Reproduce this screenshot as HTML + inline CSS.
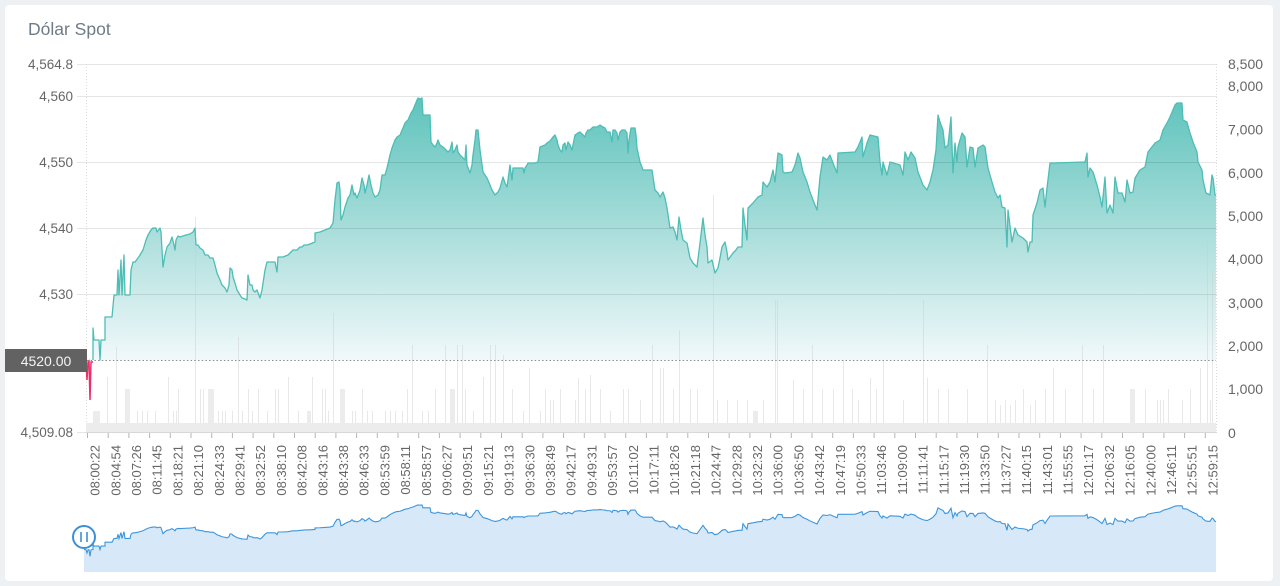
<!DOCTYPE html>
<html><head><meta charset="utf-8"><style>
html,body{margin:0;padding:0;background:#eef1f4;}
body{width:1280px;height:586px;overflow:hidden;position:relative;font-family:"Liberation Sans",Arial,sans-serif;}
.card{position:absolute;left:5px;top:5px;width:1268px;height:576px;background:#fff;border-radius:4px;}
svg{position:absolute;left:0;top:0;}
</style></head><body>
<div class="card"></div>
<svg width="1280" height="586" viewBox="0 0 1280 586" xmlns="http://www.w3.org/2000/svg">
<defs>
<linearGradient id="g1" gradientUnits="userSpaceOnUse" x1="0" y1="96" x2="0" y2="362">
<stop offset="0" stop-color="#5ec3bc"/>
<stop offset="0.5" stop-color="#a8ddda"/>
<stop offset="1" stop-color="#f2f9fb"/>
</linearGradient>
</defs>
<text x="28" y="35" font-size="17.5" fill="#6f7b87">Dólar Spot</text>

<!-- main area -->
<path fill="url(#g1)" d="M93,360 L93,328 L94,340 L99,340 L100,360 L101,340 L105,340 L105,317 L112,317 L114,295 L117,295 L118,270 L119,295 L121,260 L122,295 L124,255 L125,295 L130,295 L131,270 L133,262 L135,262 L138,258 L140,255 L143,250 L146,240 L148,235 L151,230 L153,228 L156,228 L157,232 L160,228 L161,232 L163,267 L165,255 L167,247 L170,243 L172,237 L174,245 L175,250 L176,240 L178,236 L180,237 L186,235 L190,234 L193,232 L195,228 L196,245 L198,245 L200,248 L203,250 L205,255 L208,255 L210,258 L213,258 L215,265 L217,273 L220,280 L222,285 L225,288 L227,292 L229,285 L230,268 L232,270 L233,277 L235,283 L237,290 L240,295 L242,298 L245,299 L247,300 L248,275 L250,285 L252,285 L253,290 L255,292 L257,290 L260,298 L262,290 L265,270 L267,262 L272,262 L275,262 L277,272 L278,257 L283,257 L288,255 L290,253 L293,250 L297,250 L300,247 L302,247 L304,245 L307,245 L310,244 L315,242 L315,233 L320,232 L325,230 L330,228 L333,223 L335,200 L337,183 L339,182 L340,190 L341,220 L343,215 L345,207 L348,198 L350,195 L352,185 L354,195 L355,193 L357,198 L360,190 L362,178 L364,185 L365,193 L367,185 L369,175 L371,185 L373,193 L375,197 L378,195 L380,190 L382,175 L385,175 L387,168 L390,155 L392,148 L395,140 L397,137 L400,135 L403,128 L405,123 L408,120 L411,113 L413,110 L415,105 L417,100 L418,98 L420,99 L422,98 L423,115 L430,115 L431,142 L433,145 L435,147 L437,143 L438,140 L440,145 L443,147 L446,150 L448,152 L450,150 L452,142 L453,153 L455,150 L457,145 L458,152 L460,155 L463,158 L465,160 L466,145 L467,165 L470,173 L472,165 L473,155 L475,140 L476,130 L478,130 L480,150 L483,172 L485,175 L487,178 L490,185 L492,190 L495,195 L498,192 L500,188 L503,177 L505,183 L507,187 L508,180 L510,165 L512,180 L513,168 L523,168 L524,173 L525,168 L527,165 L528,163 L535,163 L538,162 L540,147 L545,145 L547,143 L550,141 L553,137 L555,135 L557,140 L558,145 L560,150 L562,152 L563,145 L565,143 L566,150 L568,142 L570,145 L572,150 L574,140 L575,135 L578,133 L580,132 L583,135 L585,137 L586,133 L588,130 L590,130 L593,127 L597,127 L600,125 L603,127 L605,128 L607,132 L610,132 L612,142 L613,130 L615,130 L617,133 L618,140 L620,132 L622,130 L625,130 L627,133 L628,153 L629,140 L631,128 L635,128 L636,135 L637,148 L640,162 L643,170 L652,170 L655,190 L658,193 L660,197 L663,192 L665,198 L667,208 L670,228 L673,227 L675,232 L677,240 L679,217 L681,230 L683,240 L687,243 L690,258 L693,263 L697,267 L700,243 L703,218 L705,235 L707,247 L708,263 L712,260 L715,273 L718,268 L720,258 L722,247 L725,242 L727,252 L728,260 L733,253 L736,250 L738,247 L742,247 L743,208 L745,225 L747,240 L748,208 L753,203 L758,197 L762,195 L763,182 L767,187 L770,182 L773,170 L775,182 L778,153 L782,155 L783,172 L785,173 L792,172 L795,165 L798,153 L800,158 L803,172 L807,182 L810,192 L813,200 L817,210 L820,177 L823,157 L827,160 L830,155 L833,163 L837,173 L838,153 L855,152 L858,147 L862,137 L863,157 L867,143 L870,135 L878,137 L880,162 L882,175 L883,162 L887,175 L890,162 L900,165 L903,175 L905,152 L908,160 L911,152 L915,158 L918,172 L923,185 L927,190 L930,182 L933,170 L936,150 L938,115 L940,122 L943,130 L945,148 L948,145 L951,117 L953,173 L955,143 L957,162 L958,147 L962,133 L965,137 L967,167 L970,147 L973,148 L975,167 L978,148 L983,145 L985,147 L988,168 L992,182 L995,192 L998,198 L1000,195 L1002,207 L1005,208 L1007,247 L1008,210 L1012,242 L1015,228 L1018,235 L1023,238 L1027,242 L1028,252 L1030,242 L1032,242 L1033,215 L1037,203 L1040,190 L1043,188 L1045,207 L1047,188 L1050,163 L1053,163 L1085,162 L1087,153 L1088,177 L1090,168 L1093,172 L1097,185 L1100,197 L1102,207 L1105,177 L1107,213 L1110,205 L1113,213 L1115,177 L1118,193 L1122,193 L1125,202 L1127,180 L1130,193 L1133,192 L1135,178 L1140,170 L1145,167 L1148,152 L1155,143 L1160,140 L1163,130 L1167,123 L1170,117 L1175,105 L1177,103 L1182,103 L1183,120 L1187,122 L1190,133 L1193,142 L1197,152 L1198,162 L1202,170 L1203,180 L1206,193 L1210,195 L1212,175 L1213,178 L1215,195 L1216,195 L1216,360 Z"/>

<!-- gridlines -->
<g stroke="rgba(0,0,0,0.1)" stroke-width="1">
<line x1="77" y1="64.5" x2="1217" y2="64.5"/>
<line x1="77" y1="96.5" x2="1217" y2="96.5"/>
<line x1="77" y1="162.5" x2="1217" y2="162.5"/>
<line x1="77" y1="228.5" x2="1217" y2="228.5"/>
<line x1="77" y1="294.5" x2="1217" y2="294.5"/>
<line x1="77" y1="432.5" x2="86" y2="432.5"/>
</g>
<line x1="86.5" y1="64" x2="86.5" y2="432" stroke="#dcdcdc" stroke-dasharray="1 2"/>
<line x1="1216.5" y1="64" x2="1216.5" y2="432" stroke="#dcdcdc" stroke-dasharray="1 2"/>

<!-- volume -->
<rect x="86" y="423" width="1130" height="9.5" fill="#ececec"/>
<g fill="#ececec">
<rect x="93" y="411" width="7" height="12"/>
<rect x="125" y="389" width="5" height="34"/>
<rect x="208" y="389" width="6" height="34"/>
<rect x="340" y="389" width="5" height="34"/>
<rect x="307" y="411" width="4" height="12"/>
<rect x="450" y="389" width="5" height="34"/>
<rect x="753" y="411" width="5" height="12"/>
<rect x="1130" y="389" width="5" height="34"/>
</g>
<path stroke="rgba(205,205,205,0.45)" stroke-width="1" fill="none" d="M107.5,377V423M116.5,347V423M137.5,411V423M142.5,411V423M147.5,411V423M155.5,411V423M168.5,377V423M173.5,411V423M176.5,411V423M178.5,389V423M195.5,217V423M200.5,389V423M203.5,389V423M218.5,411V423M222.5,411V423M225.5,411V423M232.5,411V423M238.5,337V423M242.5,411V423M248.5,389V423M252.5,411V423M258.5,389V423M267.5,411V423M275.5,389V423M278.5,389V423M288.5,377V423M298.5,411V423M312.5,377V423M322.5,389V423M325.5,389V423M328.5,411V423M333.5,313V423M352.5,411V423M355.5,411V423M362.5,389V423M367.5,411V423M372.5,411V423M385.5,411V423M390.5,411V423M395.5,411V423M402.5,411V423M407.5,389V423M412.5,345V423M422.5,411V423M428.5,411V423M435.5,389V423M445.5,345V423M457.5,345V423M462.5,345V423M465.5,389V423M473.5,411V423M483.5,377V423M490.5,345V423M495.5,345V423M503.5,355V423M512.5,389V423M523.5,411V423M529.5,368V423M540.5,411V423M545.5,389V423M550.5,400V423M553.5,400V423M560.5,389V423M575.5,400V423M578.5,378V423M585.5,389V423M590.5,375V423M600.5,389V423M610.5,411V423M623.5,389V423M628.5,389V423M640.5,400V423M652.5,345V423M660.5,368V423M663.5,368V423M673.5,389V423M679.5,330V423M690.5,389V423M697.5,389V423M713.5,195V423M717.5,400V423M727.5,400V423M737.5,400V423M747.5,400V423M763.5,400V423M775.5,300V423M777.5,300V423M793.5,380V423M803.5,389V423M812.5,345V423M822.5,389V423M833.5,389V423M843.5,360V423M852.5,389V423M858.5,400V423M870.5,378V423M876.5,389V423M883.5,360V423M903.5,400V423M923.5,300V423M927.5,378V423M938.5,389V423M948.5,389V423M967.5,389V423M987.5,345V423M995.5,400V423M1000.5,405V423M1005.5,400V423M1010.5,405V423M1015.5,400V423M1023.5,389V423M1030.5,405V423M1035.5,400V423M1045.5,389V423M1053.5,368V423M1065.5,389V423M1082.5,345V423M1093.5,389V423M1103.5,345V423M1145.5,389V423M1157.5,400V423M1160.5,400V423M1163.5,400V423M1168.5,389V423M1182.5,400V423M1190.5,389V423M1200.5,368V423M1207.5,240V423M1210.5,400V423M1212.5,270V423"/>

<!-- main line -->
<path fill="none" stroke="#4dbdb5" stroke-width="1.3" stroke-linejoin="round" d="M93,360 L93,328 L94,340 L99,340 L100,360 L101,340 L105,340 L105,317 L112,317 L114,295 L117,295 L118,270 L119,295 L121,260 L122,295 L124,255 L125,295 L130,295 L131,270 L133,262 L135,262 L138,258 L140,255 L143,250 L146,240 L148,235 L151,230 L153,228 L156,228 L157,232 L160,228 L161,232 L163,267 L165,255 L167,247 L170,243 L172,237 L174,245 L175,250 L176,240 L178,236 L180,237 L186,235 L190,234 L193,232 L195,228 L196,245 L198,245 L200,248 L203,250 L205,255 L208,255 L210,258 L213,258 L215,265 L217,273 L220,280 L222,285 L225,288 L227,292 L229,285 L230,268 L232,270 L233,277 L235,283 L237,290 L240,295 L242,298 L245,299 L247,300 L248,275 L250,285 L252,285 L253,290 L255,292 L257,290 L260,298 L262,290 L265,270 L267,262 L272,262 L275,262 L277,272 L278,257 L283,257 L288,255 L290,253 L293,250 L297,250 L300,247 L302,247 L304,245 L307,245 L310,244 L315,242 L315,233 L320,232 L325,230 L330,228 L333,223 L335,200 L337,183 L339,182 L340,190 L341,220 L343,215 L345,207 L348,198 L350,195 L352,185 L354,195 L355,193 L357,198 L360,190 L362,178 L364,185 L365,193 L367,185 L369,175 L371,185 L373,193 L375,197 L378,195 L380,190 L382,175 L385,175 L387,168 L390,155 L392,148 L395,140 L397,137 L400,135 L403,128 L405,123 L408,120 L411,113 L413,110 L415,105 L417,100 L418,98 L420,99 L422,98 L423,115 L430,115 L431,142 L433,145 L435,147 L437,143 L438,140 L440,145 L443,147 L446,150 L448,152 L450,150 L452,142 L453,153 L455,150 L457,145 L458,152 L460,155 L463,158 L465,160 L466,145 L467,165 L470,173 L472,165 L473,155 L475,140 L476,130 L478,130 L480,150 L483,172 L485,175 L487,178 L490,185 L492,190 L495,195 L498,192 L500,188 L503,177 L505,183 L507,187 L508,180 L510,165 L512,180 L513,168 L523,168 L524,173 L525,168 L527,165 L528,163 L535,163 L538,162 L540,147 L545,145 L547,143 L550,141 L553,137 L555,135 L557,140 L558,145 L560,150 L562,152 L563,145 L565,143 L566,150 L568,142 L570,145 L572,150 L574,140 L575,135 L578,133 L580,132 L583,135 L585,137 L586,133 L588,130 L590,130 L593,127 L597,127 L600,125 L603,127 L605,128 L607,132 L610,132 L612,142 L613,130 L615,130 L617,133 L618,140 L620,132 L622,130 L625,130 L627,133 L628,153 L629,140 L631,128 L635,128 L636,135 L637,148 L640,162 L643,170 L652,170 L655,190 L658,193 L660,197 L663,192 L665,198 L667,208 L670,228 L673,227 L675,232 L677,240 L679,217 L681,230 L683,240 L687,243 L690,258 L693,263 L697,267 L700,243 L703,218 L705,235 L707,247 L708,263 L712,260 L715,273 L718,268 L720,258 L722,247 L725,242 L727,252 L728,260 L733,253 L736,250 L738,247 L742,247 L743,208 L745,225 L747,240 L748,208 L753,203 L758,197 L762,195 L763,182 L767,187 L770,182 L773,170 L775,182 L778,153 L782,155 L783,172 L785,173 L792,172 L795,165 L798,153 L800,158 L803,172 L807,182 L810,192 L813,200 L817,210 L820,177 L823,157 L827,160 L830,155 L833,163 L837,173 L838,153 L855,152 L858,147 L862,137 L863,157 L867,143 L870,135 L878,137 L880,162 L882,175 L883,162 L887,175 L890,162 L900,165 L903,175 L905,152 L908,160 L911,152 L915,158 L918,172 L923,185 L927,190 L930,182 L933,170 L936,150 L938,115 L940,122 L943,130 L945,148 L948,145 L951,117 L953,173 L955,143 L957,162 L958,147 L962,133 L965,137 L967,167 L970,147 L973,148 L975,167 L978,148 L983,145 L985,147 L988,168 L992,182 L995,192 L998,198 L1000,195 L1002,207 L1005,208 L1007,247 L1008,210 L1012,242 L1015,228 L1018,235 L1023,238 L1027,242 L1028,252 L1030,242 L1032,242 L1033,215 L1037,203 L1040,190 L1043,188 L1045,207 L1047,188 L1050,163 L1053,163 L1085,162 L1087,153 L1088,177 L1090,168 L1093,172 L1097,185 L1100,197 L1102,207 L1105,177 L1107,213 L1110,205 L1113,213 L1115,177 L1118,193 L1122,193 L1125,202 L1127,180 L1130,193 L1133,192 L1135,178 L1140,170 L1145,167 L1148,152 L1155,143 L1160,140 L1163,130 L1167,123 L1170,117 L1175,105 L1177,103 L1182,103 L1183,120 L1187,122 L1190,133 L1193,142 L1197,152 L1198,162 L1202,170 L1203,180 L1206,193 L1210,195 L1212,175 L1213,178 L1215,195 L1216,195"/>
<!-- pink below 4520 -->
<path fill="none" stroke="#ee2e6b" stroke-width="1.5" d="M86,361 L87,380 L88,362 L89,361 L90,400 L91,362 L93,362"/>

<!-- markline -->
<line x1="87" y1="360.5" x2="1216" y2="360.5" stroke="#8c8c8c" stroke-width="1" stroke-dasharray="1.5 2.2"/>
<rect x="5" y="349" width="82" height="23" fill="#626262"/>
<text x="46" y="366" font-size="14" fill="#f4f4f4" text-anchor="middle">4520.00</text>

<!-- x axis -->
<line x1="86" y1="432.5" x2="1217" y2="432.5" stroke="#d8d8d8"/>
<path stroke="#b5b5b5" stroke-width="1" d="M87.5,433V438M108.2,433V438M128.9,433V438M149.6,433V438M170.3,433V438M191,433V438M211.7,433V438M232.4,433V438M253.1,433V438M273.8,433V438M294.5,433V438M315.2,433V438M335.9,433V438M356.6,433V438M377.3,433V438M398,433V438M418.7,433V438M439.4,433V438M460.1,433V438M480.8,433V438M501.5,433V438M522.2,433V438M542.9,433V438M563.6,433V438M584.3,433V438M605,433V438M625.7,433V438M646.4,433V438M667.1,433V438M687.8,433V438M708.5,433V438M729.2,433V438M749.9,433V438M770.6,433V438M791.3,433V438M812,433V438M832.7,433V438M853.4,433V438M874.1,433V438M894.8,433V438M915.5,433V438M936.2,433V438M956.9,433V438M977.6,433V438M998.3,433V438M1019,433V438M1039.7,433V438M1060.4,433V438M1081.1,433V438M1101.8,433V438M1122.5,433V438M1143.2,433V438M1163.9,433V438M1184.6,433V438M1205.3,433V438"/>

<g font-size="13" fill="#666" text-anchor="end">
<text transform="translate(95,445) rotate(-90)" dy="0.35em">08:00:22</text>
<text transform="translate(115.7,445) rotate(-90)" dy="0.35em">08:04:54</text>
<text transform="translate(136.4,445) rotate(-90)" dy="0.35em">08:07:26</text>
<text transform="translate(157.1,445) rotate(-90)" dy="0.35em">08:11:45</text>
<text transform="translate(177.8,445) rotate(-90)" dy="0.35em">08:18:21</text>
<text transform="translate(198.5,445) rotate(-90)" dy="0.35em">08:21:10</text>
<text transform="translate(219.2,445) rotate(-90)" dy="0.35em">08:24:33</text>
<text transform="translate(239.9,445) rotate(-90)" dy="0.35em">08:29:41</text>
<text transform="translate(260.6,445) rotate(-90)" dy="0.35em">08:32:52</text>
<text transform="translate(281.3,445) rotate(-90)" dy="0.35em">08:38:10</text>
<text transform="translate(302,445) rotate(-90)" dy="0.35em">08:42:08</text>
<text transform="translate(322.7,445) rotate(-90)" dy="0.35em">08:43:16</text>
<text transform="translate(343.4,445) rotate(-90)" dy="0.35em">08:43:38</text>
<text transform="translate(364.1,445) rotate(-90)" dy="0.35em">08:46:33</text>
<text transform="translate(384.8,445) rotate(-90)" dy="0.35em">08:53:59</text>
<text transform="translate(405.5,445) rotate(-90)" dy="0.35em">08:58:11</text>
<text transform="translate(426.2,445) rotate(-90)" dy="0.35em">08:58:57</text>
<text transform="translate(446.9,445) rotate(-90)" dy="0.35em">09:06:27</text>
<text transform="translate(467.6,445) rotate(-90)" dy="0.35em">09:09:51</text>
<text transform="translate(488.3,445) rotate(-90)" dy="0.35em">09:15:21</text>
<text transform="translate(509,445) rotate(-90)" dy="0.35em">09:19:13</text>
<text transform="translate(529.7,445) rotate(-90)" dy="0.35em">09:36:30</text>
<text transform="translate(550.4,445) rotate(-90)" dy="0.35em">09:38:49</text>
<text transform="translate(571.1,445) rotate(-90)" dy="0.35em">09:42:17</text>
<text transform="translate(591.8,445) rotate(-90)" dy="0.35em">09:49:31</text>
<text transform="translate(612.5,445) rotate(-90)" dy="0.35em">09:53:57</text>
<text transform="translate(633.2,445) rotate(-90)" dy="0.35em">10:11:02</text>
<text transform="translate(653.9,445) rotate(-90)" dy="0.35em">10:17:11</text>
<text transform="translate(674.6,445) rotate(-90)" dy="0.35em">10:18:26</text>
<text transform="translate(695.3,445) rotate(-90)" dy="0.35em">10:21:18</text>
<text transform="translate(716,445) rotate(-90)" dy="0.35em">10:24:47</text>
<text transform="translate(736.7,445) rotate(-90)" dy="0.35em">10:29:28</text>
<text transform="translate(757.4,445) rotate(-90)" dy="0.35em">10:32:32</text>
<text transform="translate(778.1,445) rotate(-90)" dy="0.35em">10:36:00</text>
<text transform="translate(798.8,445) rotate(-90)" dy="0.35em">10:36:50</text>
<text transform="translate(819.5,445) rotate(-90)" dy="0.35em">10:43:42</text>
<text transform="translate(840.2,445) rotate(-90)" dy="0.35em">10:47:19</text>
<text transform="translate(860.9,445) rotate(-90)" dy="0.35em">10:50:33</text>
<text transform="translate(881.6,445) rotate(-90)" dy="0.35em">11:03:46</text>
<text transform="translate(902.3,445) rotate(-90)" dy="0.35em">11:09:00</text>
<text transform="translate(923,445) rotate(-90)" dy="0.35em">11:11:41</text>
<text transform="translate(943.7,445) rotate(-90)" dy="0.35em">11:15:17</text>
<text transform="translate(964.4,445) rotate(-90)" dy="0.35em">11:19:30</text>
<text transform="translate(985.1,445) rotate(-90)" dy="0.35em">11:33:50</text>
<text transform="translate(1005.8,445) rotate(-90)" dy="0.35em">11:37:27</text>
<text transform="translate(1026.5,445) rotate(-90)" dy="0.35em">11:40:15</text>
<text transform="translate(1047.2,445) rotate(-90)" dy="0.35em">11:43:01</text>
<text transform="translate(1067.9,445) rotate(-90)" dy="0.35em">11:55:55</text>
<text transform="translate(1088.6,445) rotate(-90)" dy="0.35em">12:01:17</text>
<text transform="translate(1109.3,445) rotate(-90)" dy="0.35em">12:06:32</text>
<text transform="translate(1130,445) rotate(-90)" dy="0.35em">12:16:05</text>
<text transform="translate(1150.7,445) rotate(-90)" dy="0.35em">12:40:00</text>
<text transform="translate(1171.4,445) rotate(-90)" dy="0.35em">12:46:11</text>
<text transform="translate(1192.1,445) rotate(-90)" dy="0.35em">12:55:51</text>
<text transform="translate(1212.8,445) rotate(-90)" dy="0.35em">12:59:15</text>
</g>

<!-- left axis labels -->
<g font-size="13.5" fill="#666" text-anchor="end">
<text x="73" y="69">4,564.8</text>
<text x="73" y="101">4,560</text>
<text x="73" y="167">4,550</text>
<text x="73" y="233">4,540</text>
<text x="73" y="299">4,530</text>
<text x="73" y="437">4,509.08</text>
</g>
<!-- right axis labels -->
<g font-size="14" fill="#666">
<text x="1228" y="69">8,500</text>
<text x="1228" y="91">8,000</text>
<text x="1228" y="134.5">7,000</text>
<text x="1228" y="178">6,000</text>
<text x="1228" y="221">5,000</text>
<text x="1228" y="264">4,000</text>
<text x="1228" y="308">3,000</text>
<text x="1228" y="351">2,000</text>
<text x="1228" y="394">1,000</text>
<text x="1228" y="438">0</text>
</g>

<!-- data zoom -->
<g transform="translate(0,488.3) scale(1,0.17)">
<path fill="#d7e9f9" d="M84,360 L86,361 L87,380 L88,362 L89,361 L90,400 L91,362 L93,360 L93,328 L94,340 L99,340 L100,360 L101,340 L105,340 L105,317 L112,317 L114,295 L117,295 L118,270 L119,295 L121,260 L122,295 L124,255 L125,295 L130,295 L131,270 L133,262 L135,262 L138,258 L140,255 L143,250 L146,240 L148,235 L151,230 L153,228 L156,228 L157,232 L160,228 L161,232 L163,267 L165,255 L167,247 L170,243 L172,237 L174,245 L175,250 L176,240 L178,236 L180,237 L186,235 L190,234 L193,232 L195,228 L196,245 L198,245 L200,248 L203,250 L205,255 L208,255 L210,258 L213,258 L215,265 L217,273 L220,280 L222,285 L225,288 L227,292 L229,285 L230,268 L232,270 L233,277 L235,283 L237,290 L240,295 L242,298 L245,299 L247,300 L248,275 L250,285 L252,285 L253,290 L255,292 L257,290 L260,298 L262,290 L265,270 L267,262 L272,262 L275,262 L277,272 L278,257 L283,257 L288,255 L290,253 L293,250 L297,250 L300,247 L302,247 L304,245 L307,245 L310,244 L315,242 L315,233 L320,232 L325,230 L330,228 L333,223 L335,200 L337,183 L339,182 L340,190 L341,220 L343,215 L345,207 L348,198 L350,195 L352,185 L354,195 L355,193 L357,198 L360,190 L362,178 L364,185 L365,193 L367,185 L369,175 L371,185 L373,193 L375,197 L378,195 L380,190 L382,175 L385,175 L387,168 L390,155 L392,148 L395,140 L397,137 L400,135 L403,128 L405,123 L408,120 L411,113 L413,110 L415,105 L417,100 L418,98 L420,99 L422,98 L423,115 L430,115 L431,142 L433,145 L435,147 L437,143 L438,140 L440,145 L443,147 L446,150 L448,152 L450,150 L452,142 L453,153 L455,150 L457,145 L458,152 L460,155 L463,158 L465,160 L466,145 L467,165 L470,173 L472,165 L473,155 L475,140 L476,130 L478,130 L480,150 L483,172 L485,175 L487,178 L490,185 L492,190 L495,195 L498,192 L500,188 L503,177 L505,183 L507,187 L508,180 L510,165 L512,180 L513,168 L523,168 L524,173 L525,168 L527,165 L528,163 L535,163 L538,162 L540,147 L545,145 L547,143 L550,141 L553,137 L555,135 L557,140 L558,145 L560,150 L562,152 L563,145 L565,143 L566,150 L568,142 L570,145 L572,150 L574,140 L575,135 L578,133 L580,132 L583,135 L585,137 L586,133 L588,130 L590,130 L593,127 L597,127 L600,125 L603,127 L605,128 L607,132 L610,132 L612,142 L613,130 L615,130 L617,133 L618,140 L620,132 L622,130 L625,130 L627,133 L628,153 L629,140 L631,128 L635,128 L636,135 L637,148 L640,162 L643,170 L652,170 L655,190 L658,193 L660,197 L663,192 L665,198 L667,208 L670,228 L673,227 L675,232 L677,240 L679,217 L681,230 L683,240 L687,243 L690,258 L693,263 L697,267 L700,243 L703,218 L705,235 L707,247 L708,263 L712,260 L715,273 L718,268 L720,258 L722,247 L725,242 L727,252 L728,260 L733,253 L736,250 L738,247 L742,247 L743,208 L745,225 L747,240 L748,208 L753,203 L758,197 L762,195 L763,182 L767,187 L770,182 L773,170 L775,182 L778,153 L782,155 L783,172 L785,173 L792,172 L795,165 L798,153 L800,158 L803,172 L807,182 L810,192 L813,200 L817,210 L820,177 L823,157 L827,160 L830,155 L833,163 L837,173 L838,153 L855,152 L858,147 L862,137 L863,157 L867,143 L870,135 L878,137 L880,162 L882,175 L883,162 L887,175 L890,162 L900,165 L903,175 L905,152 L908,160 L911,152 L915,158 L918,172 L923,185 L927,190 L930,182 L933,170 L936,150 L938,115 L940,122 L943,130 L945,148 L948,145 L951,117 L953,173 L955,143 L957,162 L958,147 L962,133 L965,137 L967,167 L970,147 L973,148 L975,167 L978,148 L983,145 L985,147 L988,168 L992,182 L995,192 L998,198 L1000,195 L1002,207 L1005,208 L1007,247 L1008,210 L1012,242 L1015,228 L1018,235 L1023,238 L1027,242 L1028,252 L1030,242 L1032,242 L1033,215 L1037,203 L1040,190 L1043,188 L1045,207 L1047,188 L1050,163 L1053,163 L1085,162 L1087,153 L1088,177 L1090,168 L1093,172 L1097,185 L1100,197 L1102,207 L1105,177 L1107,213 L1110,205 L1113,213 L1115,177 L1118,193 L1122,193 L1125,202 L1127,180 L1130,193 L1133,192 L1135,178 L1140,170 L1145,167 L1148,152 L1155,143 L1160,140 L1163,130 L1167,123 L1170,117 L1175,105 L1177,103 L1182,103 L1183,120 L1187,122 L1190,133 L1193,142 L1197,152 L1198,162 L1202,170 L1203,180 L1206,193 L1210,195 L1212,175 L1213,178 L1215,195 L1216,195 L1216,492 L84,492 Z"/>
<path fill="none" stroke="#3d96dc" stroke-width="1.1" vector-effect="non-scaling-stroke" d="M84,360 L86,361 L87,380 L88,362 L89,361 L90,400 L91,362 L93,360 L93,328 L94,340 L99,340 L100,360 L101,340 L105,340 L105,317 L112,317 L114,295 L117,295 L118,270 L119,295 L121,260 L122,295 L124,255 L125,295 L130,295 L131,270 L133,262 L135,262 L138,258 L140,255 L143,250 L146,240 L148,235 L151,230 L153,228 L156,228 L157,232 L160,228 L161,232 L163,267 L165,255 L167,247 L170,243 L172,237 L174,245 L175,250 L176,240 L178,236 L180,237 L186,235 L190,234 L193,232 L195,228 L196,245 L198,245 L200,248 L203,250 L205,255 L208,255 L210,258 L213,258 L215,265 L217,273 L220,280 L222,285 L225,288 L227,292 L229,285 L230,268 L232,270 L233,277 L235,283 L237,290 L240,295 L242,298 L245,299 L247,300 L248,275 L250,285 L252,285 L253,290 L255,292 L257,290 L260,298 L262,290 L265,270 L267,262 L272,262 L275,262 L277,272 L278,257 L283,257 L288,255 L290,253 L293,250 L297,250 L300,247 L302,247 L304,245 L307,245 L310,244 L315,242 L315,233 L320,232 L325,230 L330,228 L333,223 L335,200 L337,183 L339,182 L340,190 L341,220 L343,215 L345,207 L348,198 L350,195 L352,185 L354,195 L355,193 L357,198 L360,190 L362,178 L364,185 L365,193 L367,185 L369,175 L371,185 L373,193 L375,197 L378,195 L380,190 L382,175 L385,175 L387,168 L390,155 L392,148 L395,140 L397,137 L400,135 L403,128 L405,123 L408,120 L411,113 L413,110 L415,105 L417,100 L418,98 L420,99 L422,98 L423,115 L430,115 L431,142 L433,145 L435,147 L437,143 L438,140 L440,145 L443,147 L446,150 L448,152 L450,150 L452,142 L453,153 L455,150 L457,145 L458,152 L460,155 L463,158 L465,160 L466,145 L467,165 L470,173 L472,165 L473,155 L475,140 L476,130 L478,130 L480,150 L483,172 L485,175 L487,178 L490,185 L492,190 L495,195 L498,192 L500,188 L503,177 L505,183 L507,187 L508,180 L510,165 L512,180 L513,168 L523,168 L524,173 L525,168 L527,165 L528,163 L535,163 L538,162 L540,147 L545,145 L547,143 L550,141 L553,137 L555,135 L557,140 L558,145 L560,150 L562,152 L563,145 L565,143 L566,150 L568,142 L570,145 L572,150 L574,140 L575,135 L578,133 L580,132 L583,135 L585,137 L586,133 L588,130 L590,130 L593,127 L597,127 L600,125 L603,127 L605,128 L607,132 L610,132 L612,142 L613,130 L615,130 L617,133 L618,140 L620,132 L622,130 L625,130 L627,133 L628,153 L629,140 L631,128 L635,128 L636,135 L637,148 L640,162 L643,170 L652,170 L655,190 L658,193 L660,197 L663,192 L665,198 L667,208 L670,228 L673,227 L675,232 L677,240 L679,217 L681,230 L683,240 L687,243 L690,258 L693,263 L697,267 L700,243 L703,218 L705,235 L707,247 L708,263 L712,260 L715,273 L718,268 L720,258 L722,247 L725,242 L727,252 L728,260 L733,253 L736,250 L738,247 L742,247 L743,208 L745,225 L747,240 L748,208 L753,203 L758,197 L762,195 L763,182 L767,187 L770,182 L773,170 L775,182 L778,153 L782,155 L783,172 L785,173 L792,172 L795,165 L798,153 L800,158 L803,172 L807,182 L810,192 L813,200 L817,210 L820,177 L823,157 L827,160 L830,155 L833,163 L837,173 L838,153 L855,152 L858,147 L862,137 L863,157 L867,143 L870,135 L878,137 L880,162 L882,175 L883,162 L887,175 L890,162 L900,165 L903,175 L905,152 L908,160 L911,152 L915,158 L918,172 L923,185 L927,190 L930,182 L933,170 L936,150 L938,115 L940,122 L943,130 L945,148 L948,145 L951,117 L953,173 L955,143 L957,162 L958,147 L962,133 L965,137 L967,167 L970,147 L973,148 L975,167 L978,148 L983,145 L985,147 L988,168 L992,182 L995,192 L998,198 L1000,195 L1002,207 L1005,208 L1007,247 L1008,210 L1012,242 L1015,228 L1018,235 L1023,238 L1027,242 L1028,252 L1030,242 L1032,242 L1033,215 L1037,203 L1040,190 L1043,188 L1045,207 L1047,188 L1050,163 L1053,163 L1085,162 L1087,153 L1088,177 L1090,168 L1093,172 L1097,185 L1100,197 L1102,207 L1105,177 L1107,213 L1110,205 L1113,213 L1115,177 L1118,193 L1122,193 L1125,202 L1127,180 L1130,193 L1133,192 L1135,178 L1140,170 L1145,167 L1148,152 L1155,143 L1160,140 L1163,130 L1167,123 L1170,117 L1175,105 L1177,103 L1182,103 L1183,120 L1187,122 L1190,133 L1193,142 L1197,152 L1198,162 L1202,170 L1203,180 L1206,193 L1210,195 L1212,175 L1213,178 L1215,195 L1216,195"/>
</g>
<!-- handle -->
<circle cx="84" cy="537" r="11" fill="#fff" stroke="#3a90da" stroke-width="2"/>
<line x1="81" y1="532" x2="81" y2="542" stroke="#3a90da" stroke-width="1.6"/>
<line x1="87" y1="532" x2="87" y2="542" stroke="#3a90da" stroke-width="1.6"/>
</svg>
</body></html>
